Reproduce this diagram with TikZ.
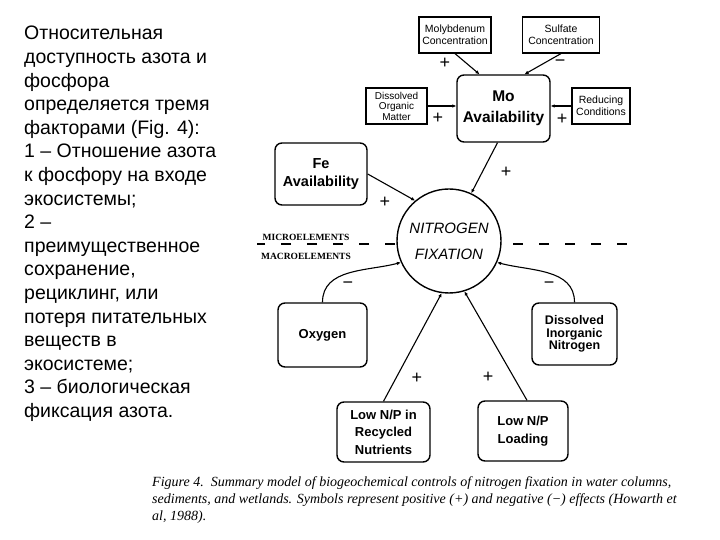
\documentclass[tikz,border=0pt]{standalone}
\usepackage{fontspec}
\setmainfont{Liberation Sans}
\newfontfamily\capfont{Liberation Serif}
\usetikzlibrary{arrows.meta}
\tikzset{
  rbox/.style={draw, line width=1.4pt, rounded corners=7pt, align=center, inner sep=0pt,
    font=\bfseries\fontsize{13}{16}\selectfont},
  sbox/.style={draw, line width=1.2pt, align=center, inner sep=0pt,
    font=\fontsize{10.5}{12}\selectfont},
  conn/.style={line width=1.1pt, -{Latex[length=4pt,width=3.6pt]}},
  sign/.style={font=\fontsize{18}{18}\selectfont, inner sep=0pt},
  elem/.style={font=\capfont\bfseries\fontsize{9.5}{10}\selectfont, inner sep=0pt},
}
\begin{document}
\begin{tikzpicture}[x=1pt,y=1pt]
\useasboundingbox (0,0) rectangle (720,540);
\fill[white] (0,0) rectangle (720,540);

% left text
\node[anchor=north west, align=left, inner sep=0pt, font=\fontsize{19.5}{23.6}\selectfont] (lefttext) at (24,514)
{Относительная\\доступность азота и\\фосфора\\определяется тремя\\факторами (Fig. 4):\\1 – Отношение азота\\к фосфору на входе\\экосистемы;\\2 –\\преимущественное\\сохранение,\\рециклинг, или\\потеря питательных\\веществ в\\экосистеме;\\3 – биологическая\\фиксация азота.};

% boxes
\node[sbox, minimum width=72pt, minimum height=36pt] (moly) at (455,505) {Molybdenum\\Concentration};
\node[sbox, minimum width=77pt, minimum height=36pt] (sulf) at (561,505) {Sulfate\\Concentration};
\node[sbox, minimum width=61pt, minimum height=36pt, font=\fontsize{10}{10.5}\selectfont] (dom) at (396.5,434) {Dissolved\\Organic\\Matter};
\node[rbox, minimum width=93pt, minimum height=67pt, font=\bfseries\fontsize{15.5}{21}\selectfont] (mo) at (503.5,431.5) {Mo\\Availability};
\node[sbox, minimum width=58pt, minimum height=36pt] (red) at (601,434) {Reducing\\Conditions};
\node[rbox, minimum width=92pt, minimum height=62pt, font=\bfseries\fontsize{14.5}{18}\selectfont] (fe) at (321,366) {Fe\\Availability};
\node[draw, circle, line width=1.4pt, minimum size=104pt, inner sep=0pt, align=center,
  font=\itshape\fontsize{15}{26}\selectfont] (nf) at (449,299) {NITROGEN\\FIXATION};
\node[rbox, minimum width=89pt, minimum height=64pt] (oxy) at (322.5,205) {Oxygen};
\node[rbox, minimum width=85pt, minimum height=62pt, font=\bfseries\fontsize{12.5}{12.5}\selectfont] (din) at (574.5,206) {Dissolved\\Inorganic\\Nitrogen};
\node[rbox, minimum width=93pt, minimum height=60pt, font=\bfseries\fontsize{13}{17.5}\selectfont] (lnp) at (383.5,108) {Low N/P in\\Recycled\\Nutrients};
\node[rbox, minimum width=90pt, minimum height=60pt, font=\bfseries\fontsize{13}{18}\selectfont] (lnl) at (523,109) {Low N/P\\Loading};

% connectors
\draw[conn] (moly.south) -- ([xshift=-24pt]mo.north);
\draw[conn] (sulf.south) -- ([xshift=21pt]mo.north);
\draw[conn] (dom.east) -- (dom.east -| mo.west);
\draw[conn] (red.west) -- (red.west -| mo.east);
\draw[conn] ([xshift=-6pt]mo.south) -- (nf.65);
\draw[conn] (fe.east) -- (nf.130);
\draw[conn] (oxy.north) to[out=90,in=195] (nf.204);
\draw[conn] (din.north) to[out=90,in=-15] (nf.336);
\draw[conn] (lnp.north) -- (nf.262);
\draw[conn] ([xshift=4pt]lnl.north) -- (nf.287);

% signs
\node[sign] (s1) at (445,477) {+};
\node[sign] (s2) at (560,477) {−};
\node[sign] (s3) at (438,422) {+};
\node[sign] (s4) at (562,421) {+};
\node[sign] (s5) at (506,368) {+};
\node[sign] (s6) at (385,338) {+};
\node[sign] (s7) at (348,255) {−};
\node[sign] (s8) at (549,255) {−};
\node[sign] (s9) at (417,162) {+};
\node[sign] (s10) at (488,163) {+};

% micro / macro
\node[elem] (micro) at (306,303) {MICROELEMENTS};
\node[elem] (macro) at (306,284) {MACROELEMENTS};
\coordinate (dl1) at (395,296);
\coordinate (dl2) at (257,296);
\coordinate (dr1) at (513,296);
\coordinate (dr2) at (643,296);
\draw[line width=1.2pt, dash pattern=on 10pt off 16pt] (dl1) -- (dl2);
\draw[line width=1.2pt, dash pattern=on 10pt off 16pt] (dr1) -- (dr2);

% caption
\node[anchor=north west, align=left, inner sep=0pt, font=\capfont\itshape\fontsize{14}{17}\selectfont] (cap) at (152,64)
{Figure 4.\ \ Summary model of biogeochemical controls of nitrogen fixation in water columns,\\sediments, and wetlands. Symbols represent positive (+) and negative (−) effects (Howarth et\\al, 1988).};
\end{tikzpicture}
\end{document}
